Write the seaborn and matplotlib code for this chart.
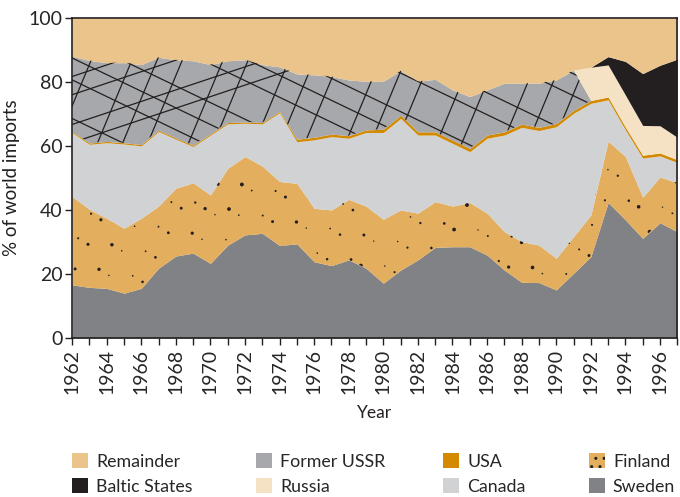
import numpy as np
import seaborn as sns
import matplotlib
matplotlib.use("Agg")
import matplotlib.pyplot as plt
from matplotlib.patches import Patch

years = list(range(1962, 1998))

sweden = [16.6, 15.8, 15.5, 14.0, 15.5, 21.8, 25.6, 26.5, 23.3, 29.0, 32.2, 32.7,
          28.9, 29.4, 23.8, 22.6, 24.4, 21.8, 17.1, 21.2, 24.4, 28.3, 28.5, 28.5,
          25.9, 21.2, 17.4, 17.3, 15.0, 20.2, 25.4, 42.3, 36.9, 31.1, 36.0, 33.2]
finland = [27.6, 24.4, 21.9, 20.3, 21.9, 19.4, 21.2, 22.0, 21.4, 24.0, 24.5, 21.0,
           20.0, 18.9, 16.7, 17.4, 18.9, 19.4, 20.0, 18.8, 14.6, 14.3, 12.7, 13.8,
           13.1, 12.0, 12.7, 11.7, 9.9, 11.5, 13.0, 19.2, 19.8, 12.9, 14.3, 15.3]
canada = [20.0, 20.3, 23.6, 26.3, 22.6, 23.3, 15.3, 11.3, 18.7, 13.9, 10.4, 13.2,
          21.5, 13.0, 21.4, 22.9, 19.1, 23.0, 27.1, 28.6, 24.4, 20.8, 19.6, 15.9,
          23.4, 30.2, 35.7, 35.8, 41.1, 38.5, 34.9, 12.9, 8.3, 12.2, 6.6, 6.3]
usa = [0.4, 0.4, 0.4, 0.4, 0.4, 0.4, 0.4, 0.4, 0.4, 0.4, 0.4, 0.4,
       0.4, 0.8, 0.8, 0.8, 0.8, 0.8, 1.0, 1.0, 1.0, 1.0, 1.0, 1.0,
       1.0, 1.0, 1.0, 1.0, 1.0, 0.9, 0.9, 0.9, 0.9, 0.9, 0.9, 0.9]
former_ussr = [23.4, 25.8, 24.6, 25.0, 25.0, 22.8, 24.4, 26.4, 21.6, 19.3, 19.4, 18.1,
               13.9, 20.4, 19.5, 18.0, 17.4, 15.2, 15.0, 13.9, 15.8, 16.4, 15.7, 16.2,
               14.1, 15.2, 12.8, 13.8, 13.6, 12.6, 0, 0, 0, 0, 0, 0]
russia = [0] * 30 + [10.4, 10.0, 10.0, 9.3, 8.5, 7.0]
baltic = [0] * 30 + [0, 2.6, 10.5, 16.2, 18.9, 24.4]
remainder = [12.0, 13.3, 14.0, 14.0, 14.6, 12.3, 13.1, 13.4, 14.6, 13.4, 13.1, 14.6,
             15.3, 17.5, 17.8, 18.3, 19.4, 19.8, 19.8, 16.5, 19.8, 19.2, 22.5, 24.6,
             22.5, 20.4, 20.4, 20.4, 19.4, 16.3, 15.4, 12.1, 13.6, 17.4, 14.8, 12.9]

names = ["Sweden", "Finland", "Canada", "USA", "Former USSR", "Russia",
         "Baltic States", "Remainder"]
colors = {"Sweden": "#808285", "Finland": "#E3AE5E", "Canada": "#D1D2D4",
          "USA": "#D48A00", "Former USSR": "#A7A8AB", "Russia": "#F5E2C4",
          "Baltic States": "#231F20", "Remainder": "#EAC48A"}

sns.set_style("white")
plt.rcParams["font.family"] = ["Lato", "DejaVu Sans"]
ink = "#231F20"

fig = plt.figure(figsize=(6.8, 4.97), dpi=100)
ax = fig.add_axes([0.106, 0.32, 0.89, 0.644])

series = [sweden, finland, canada, usa, former_ussr, russia, baltic, remainder]
polys = ax.stackplot(years, *series, colors=[colors[n] for n in names],
                     linewidth=0)

# texture: sparse crossing lines on Former USSR
ussr_path = polys[4].get_paths()[0]
xs = np.array([1950.0, 2005.0])
k = np.arange(0, 40)
jit = (k * 0.6180339887) % 1
families = [
    (-2.6, 1962 + 3.4 * k - 25 + 2.0 * jit),   # falling to the right
    (13.0, 1958 + 1.8 * k + 0.9 * jit),        # steep rising
    (1.8, 1962 - 4.4 * k + 5 + 2.0 * jit),     # shallow rising
]
for slope, x0s in families:
    for x0 in x0s:
        ys = 70 + slope * (xs - x0)
        ln, = ax.plot(xs, ys, color=ink, lw=0.9)
        ln.set_clip_path(ussr_path, transform=ax.transData)

# texture: speckles on Finland
fin_path = polys[1].get_paths()[0]
n = np.arange(1, 230)
px = 1962 + 35 * ((n * 0.6180339887) % 1)
py = 12 + 52 * ((n * 0.7548776662) % 1)
sz = 1 + 7 * ((n * 0.5698402910) % 1) ** 2
dots = ax.scatter(px, py, s=sz, color=ink, linewidths=0)
dots.set_clip_path(fin_path, transform=ax.transData)

ax.set_xlim(1962, 1997)
ax.set_ylim(0, 100)
ax.set_xticks(years)
ax.set_xticklabels([str(y) if y % 2 == 0 else "" for y in years],
                   rotation=90, fontsize=14)
ax.set_yticks(range(0, 101, 20))
ax.tick_params(axis="y", labelsize=14, direction="out", length=5, color=ink,
               width=1, left=True, pad=2)
ax.tick_params(axis="x", direction="out", length=5, color=ink, width=1,
               bottom=True, pad=3)
for s in ax.spines.values():
    s.set_color(ink)
    s.set_linewidth(1.2)
ax.set_ylabel("% of world imports", fontsize=13.5, color=ink, labelpad=6)
ax.set_xlabel("Year", fontsize=12.5, color=ink, labelpad=8)

legend_cols = [("Remainder", "Baltic States"), ("Former USSR", "Russia"),
               ("USA", "Canada"), ("Finland", "Sweden")]
col_x = [0.106, 0.377, 0.652, 0.866]
for (top, bottom), x in zip(legend_cols, col_x):
    handles = []
    for nm in (top, bottom):
        if nm == "Finland":
            handles.append(Patch(facecolor=colors[nm], edgecolor=ink, hatch="..",
                                 linewidth=0, label=nm))
        else:
            handles.append(Patch(facecolor=colors[nm], linewidth=0, label=nm))
    fig.legend(handles=handles, loc="lower left", bbox_to_anchor=(x, 0.005),
               frameon=False, fontsize=12.8, borderpad=0, borderaxespad=0,
               handlelength=0.9, handleheight=0.9, handletextpad=0.45,
               labelspacing=0.45)

fig.savefig("out.png", dpi=100)
